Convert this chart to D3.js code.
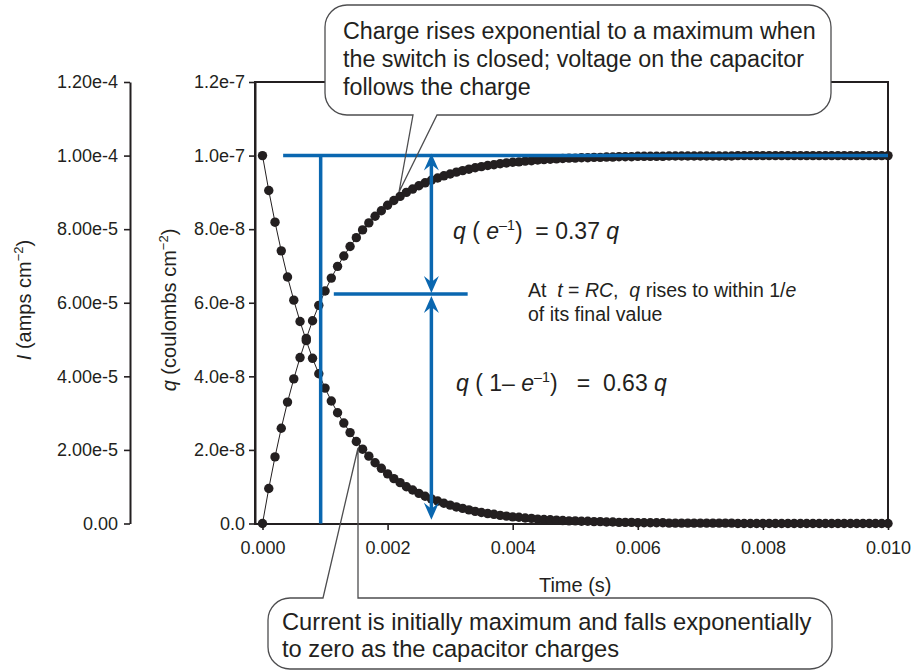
<!DOCTYPE html>
<html>
<head>
<meta charset="utf-8">
<script src="https://cdn.jsdelivr.net/npm/d3@7"></script>
<style>
  body { margin: 0; background: #fff; }
  svg { display: block; font-family: "Liberation Sans", Arial, Helvetica, sans-serif; }
  text { fill: #231f20; white-space: pre; }
</style>
</head>
<body>
<div id="chart"></div>
<script>
// time in milliseconds (one sample every 0.1 ms)
const timeMs = [
  0.0, 0.1, 0.2, 0.3, 0.4, 0.5, 0.6, 0.7, 0.8, 0.9,
  1.0, 1.1, 1.2, 1.3, 1.4, 1.5, 1.6, 1.7, 1.8, 1.9,
  2.0, 2.1, 2.2, 2.3, 2.4, 2.5, 2.6, 2.7, 2.8, 2.9,
  3.0, 3.1, 3.2, 3.3, 3.4, 3.5, 3.6, 3.7, 3.8, 3.9,
  4.0, 4.1, 4.2, 4.3, 4.4, 4.5, 4.6, 4.7, 4.8, 4.9,
  5.0, 5.1, 5.2, 5.3, 5.4, 5.5, 5.6, 5.7, 5.8, 5.9,
  6.0, 6.1, 6.2, 6.3, 6.4, 6.5, 6.6, 6.7, 6.8, 6.9,
  7.0, 7.1, 7.2, 7.3, 7.4, 7.5, 7.6, 7.7, 7.8, 7.9,
  8.0, 8.1, 8.2, 8.3, 8.4, 8.5, 8.6, 8.7, 8.8, 8.9,
  9.0, 9.1, 9.2, 9.3, 9.4, 9.5, 9.6, 9.7, 9.8, 9.9,
  10.0
];

// charge q, in units of 1e-8 coulombs cm^-2
const chargeE8 = [
  0.00, 0.95, 1.81, 2.59, 3.30, 3.93, 4.51, 5.03, 5.51, 5.93,
  6.32, 6.67, 6.99, 7.27, 7.53, 7.77, 7.98, 8.17, 8.35, 8.50,
  8.65, 8.78, 8.89, 9.00, 9.09, 9.18, 9.26, 9.33, 9.39, 9.45,
  9.50, 9.55, 9.59, 9.63, 9.67, 9.70, 9.73, 9.75, 9.78, 9.80,
  9.82, 9.83, 9.85, 9.86, 9.88, 9.89, 9.90, 9.91, 9.92, 9.93,
  9.93, 9.94, 9.94, 9.95, 9.95, 9.96, 9.96, 9.97, 9.97, 9.97,
  9.98, 9.98, 9.98, 9.98, 9.98, 9.99, 9.99, 9.99, 9.99, 9.99,
  9.99, 9.99, 9.99, 9.99, 9.99, 9.99, 10.00, 10.00, 10.00, 10.00,
  10.00, 10.00, 10.00, 10.00, 10.00, 10.00, 10.00, 10.00, 10.00, 10.00,
  10.00, 10.00, 10.00, 10.00, 10.00, 10.00, 10.00, 10.00, 10.00, 10.00,
  10.00
];

// current I, in units of 1e-5 amps cm^-2
const currentE5 = [
  10.00, 9.05, 8.19, 7.41, 6.70, 6.07, 5.49, 4.97, 4.49, 4.07,
  3.68, 3.33, 3.01, 2.73, 2.47, 2.23, 2.02, 1.83, 1.65, 1.50,
  1.35, 1.22, 1.11, 1.00, 0.91, 0.82, 0.74, 0.67, 0.61, 0.55,
  0.50, 0.45, 0.41, 0.37, 0.33, 0.30, 0.27, 0.25, 0.22, 0.20,
  0.18, 0.17, 0.15, 0.14, 0.12, 0.11, 0.10, 0.09, 0.08, 0.07,
  0.07, 0.06, 0.06, 0.05, 0.05, 0.04, 0.04, 0.03, 0.03, 0.03,
  0.02, 0.02, 0.02, 0.02, 0.02, 0.01, 0.01, 0.01, 0.01, 0.01,
  0.01, 0.01, 0.01, 0.01, 0.01, 0.01, 0.00, 0.00, 0.00, 0.00,
  0.00, 0.00, 0.00, 0.00, 0.00, 0.00, 0.00, 0.00, 0.00, 0.00,
  0.00, 0.00, 0.00, 0.00, 0.00, 0.00, 0.00, 0.00, 0.00, 0.00,
  0.00
];

const timeTicks = [0, 2, 4, 6, 8, 10];
const timeTickLabels = ["0.000", "0.002", "0.004", "0.006", "0.008", "0.010"];
const qTicks = [0, 2, 4, 6, 8, 10, 12];
const qTickLabels = ["0.0", "2.0e-8", "4.0e-8", "6.0e-8", "8.0e-8", "1.0e-7", "1.2e-7"];
const iTicks = [0, 2, 4, 6, 8, 10, 12];
const iTickLabels = ["0.00", "2.00e-5", "4.00e-5", "6.00e-5", "8.00e-5", "1.00e-4", "1.20e-4"];

// annotation positions (data units)
const rcMarkTime = 0.93;      // vertical blue guide
const qFinal = 10;            // final charge level
const qAtRC = 6.24;           // charge reached at t = RC
const arrowTime = 2.70;       // dimension arrows
const arrowBottom = 0.1;

const ink = "#231f20";
const blue = "#0a67b0";

const W = 924, H = 671;
const frame = {left: 255, right: 888, top: 82, bottom: 524};
const iAxisX = 130;

const svg = d3.select("#chart").append("svg")
  .attr("width", W)
  .attr("height", H);

const x = d3.scaleLinear().domain([0, 10]).range([262.5, 888]);
const yQ = d3.scaleLinear().domain([0, 12]).range([523.5, 82]);
const yI = d3.scaleLinear().domain([0, 12]).range([523.5, 82]);

// plot frame
svg.append("rect")
  .attr("x", frame.left)
  .attr("y", frame.top)
  .attr("width", frame.right - frame.left)
  .attr("height", frame.bottom - frame.top)
  .attr("fill", "none")
  .attr("stroke", ink)
  .attr("stroke-width", 2);

function styleAxis(g) {
  g.attr("font-size", 18).attr("font-family", null);
  g.selectAll("text").attr("fill", ink);
  g.selectAll(".tick line").attr("stroke", ink).attr("stroke-width", 1.6);
  g.select(".domain").attr("stroke", ink).attr("stroke-width", 2);
}

// x axis
svg.append("g")
  .attr("transform", `translate(0,${frame.bottom})`)
  .call(d3.axisBottom(x)
    .tickValues(timeTicks)
    .tickFormat((d, i) => timeTickLabels[i])
    .tickSize(6)
    .tickPadding(11))
  .call(styleAxis)
  .call(g => g.select(".domain").remove());

// q axis (left edge of frame)
svg.append("g")
  .attr("transform", `translate(${frame.left},0)`)
  .call(d3.axisLeft(yQ)
    .tickValues(qTicks)
    .tickFormat((d, i) => qTickLabels[i])
    .tickSize(6)
    .tickSizeOuter(0)
    .tickPadding(4))
  .call(styleAxis);

// I axis (detached, further left)
svg.append("g")
  .attr("transform", `translate(${iAxisX},0)`)
  .call(d3.axisLeft(yI)
    .tickValues(iTicks)
    .tickFormat((d, i) => iTickLabels[i])
    .tickSize(6)
    .tickSizeOuter(0)
    .tickPadding(6))
  .call(styleAxis);

// axis titles
svg.append("text")
  .attr("x", x(5))
  .attr("y", 592)
  .attr("text-anchor", "middle")
  .attr("font-size", 20)
  .text("Time (s)");

function axisTitle(tx, ty, variable, rest) {
  const t = svg.append("text")
    .attr("transform", `translate(${tx},${ty}) rotate(-90)`)
    .attr("text-anchor", "middle")
    .attr("font-size", 20);
  t.append("tspan").attr("font-style", "italic").text(variable);
  t.append("tspan").text(rest);
  t.append("tspan").attr("font-size", 13).attr("dy", -8).text("−2");
  t.append("tspan").attr("dy", 8).text(")");
}
axisTitle(176, 310, "q", " (coulombs cm");
axisTitle(31, 300, "I", " (amps cm");

// series
const currentPts = timeMs.map((t, i) => [t, currentE5[i]]);
const chargePts = timeMs.map((t, i) => [t, chargeE8[i]]);

const lineI = d3.line().x(d => x(d[0])).y(d => yI(d[1]));
const lineQ = d3.line().x(d => x(d[0])).y(d => yQ(d[1]));

svg.append("path").datum(currentPts)
  .attr("d", lineI).attr("fill", "none").attr("stroke", ink).attr("stroke-width", 1);
svg.append("path").datum(chargePts)
  .attr("d", lineQ).attr("fill", "none").attr("stroke", ink).attr("stroke-width", 1);

svg.append("g").selectAll("circle")
  .data(currentPts)
  .join("circle")
  .attr("cx", d => x(d[0]))
  .attr("cy", d => yI(d[1]))
  .attr("r", 4.7)
  .attr("fill", ink);

svg.append("g").selectAll("circle")
  .data(chargePts)
  .join("circle")
  .attr("cx", d => x(d[0]))
  .attr("cy", d => yQ(d[1]))
  .attr("r", 4.7)
  .attr("fill", ink);

// blue guides
const guides = svg.append("g").attr("stroke", blue).attr("stroke-width", 3.5);
guides.append("line")
  .attr("x1", x(0.33)).attr("x2", x(10))
  .attr("y1", yQ(qFinal)).attr("y2", yQ(qFinal));
guides.append("line")
  .attr("x1", x(rcMarkTime)).attr("x2", x(rcMarkTime))
  .attr("y1", yQ(qFinal)).attr("y2", yQ(0));
guides.append("line")
  .attr("x1", x(1.14)).attr("x2", x(3.28))
  .attr("y1", yQ(qAtRC)).attr("y2", yQ(qAtRC));

const ax = x(arrowTime);
function dimArrow(yTop, yBot) {
  guides.append("line")
    .attr("x1", ax).attr("x2", ax)
    .attr("y1", yTop + 8).attr("y2", yBot - 8);
  const head = "M0,0 L-7.5,17 L0,11 L7.5,17 Z";
  svg.append("path").attr("d", head).attr("fill", blue)
    .attr("transform", `translate(${ax},${yTop})`);
  svg.append("path").attr("d", head).attr("fill", blue)
    .attr("transform", `translate(${ax},${yBot}) rotate(180)`);
}
dimArrow(yQ(qFinal) - 2, yQ(qAtRC) - 1);
dimArrow(yQ(qAtRC) + 2, yQ(arrowBottom));

// equation labels
function richText(tx, ty, size, parts) {
  const t = svg.append("text").attr("x", tx).attr("y", ty).attr("font-size", size);
  parts.forEach(p => {
    const s = t.append("tspan").text(p.s);
    if (p.i) s.attr("font-style", "italic");
    if (p.sup) s.attr("font-size", size * 0.62).attr("dy", -size * 0.4);
    if (p.down) s.attr("dy", size * 0.4);
  });
}
richText(453, 239, 23, [
  {s: "q", i: true}, {s: " ( "}, {s: "e", i: true}, {s: "–1", sup: true},
  {s: ")  = 0.37 ", down: true}, {s: "q", i: true}
]);
richText(456, 391, 23, [
  {s: "q", i: true}, {s: " ( 1– "}, {s: "e", i: true}, {s: "–1", sup: true},
  {s: ")   =  0.63 ", down: true}, {s: "q", i: true}
]);
richText(528, 297, 19.5, [
  {s: "At  "}, {s: "t", i: true}, {s: " = "}, {s: "RC", i: true}, {s: ",  "},
  {s: "q", i: true}, {s: " rises to within 1/"}, {s: "e", i: true}
]);
richText(528, 320.5, 19.5, [{s: "of its final value"}]);

// callouts
function callout(box, tail, lines, size, lineGap, textX, firstBase) {
  const r = 22;
  const {x0, x1, y0, y1} = box;
  svg.append("rect")
    .attr("x", x0).attr("y", y0)
    .attr("width", x1 - x0).attr("height", y1 - y0)
    .attr("rx", r)
    .attr("fill", "#fff");
  svg.append("path")
    .attr("d", tail(r))
    .attr("fill", "none")
    .attr("stroke", "#4d4d4f")
    .attr("stroke-width", 1.3);
  const t = svg.append("text").attr("font-size", size);
  lines.forEach((ln, i) => {
    t.append("tspan").attr("x", textX).attr("y", firstBase + i * lineGap).text(ln);
  });
}

const topBox = {x0: 325, x1: 831, y0: 5, y1: 115};
callout(topBox, r => {
  const b = topBox;
  return `M${b.x0 + r},${b.y0} H${b.x1 - r} A${r},${r} 0 0 1 ${b.x1},${b.y0 + r}` +
    ` V${b.y1 - r} A${r},${r} 0 0 1 ${b.x1 - r},${b.y1} H437 L399,192 L413,${b.y1}` +
    ` H${b.x0 + r} A${r},${r} 0 0 1 ${b.x0},${b.y1 - r} V${b.y0 + r}` +
    ` A${r},${r} 0 0 1 ${b.x0 + r},${b.y0} Z`;
}, [
  "Charge rises exponential to a maximum when",
  "the switch is closed; voltage on the capacitor",
  "follows the charge"
], 23.3, 28, 343, 38.5);

const botBox = {x0: 268, x1: 832, y0: 598, y1: 669};
callout(botBox, r => {
  const b = botBox;
  return `M${b.x0 + r},${b.y0} H323 L358,448 L358,${b.y0} H${b.x1 - r}` +
    ` A${r},${r} 0 0 1 ${b.x1},${b.y0 + r} V${b.y1 - r} A${r},${r} 0 0 1 ${b.x1 - r},${b.y1}` +
    ` H${b.x0 + r} A${r},${r} 0 0 1 ${b.x0},${b.y1 - r} V${b.y0 + r}` +
    ` A${r},${r} 0 0 1 ${b.x0 + r},${b.y0} Z`;
}, [
  "Current is initially maximum and falls exponentially",
  "to zero as the capacitor charges"
], 23.7, 27, 282, 630);
</script>
</body>
</html>
